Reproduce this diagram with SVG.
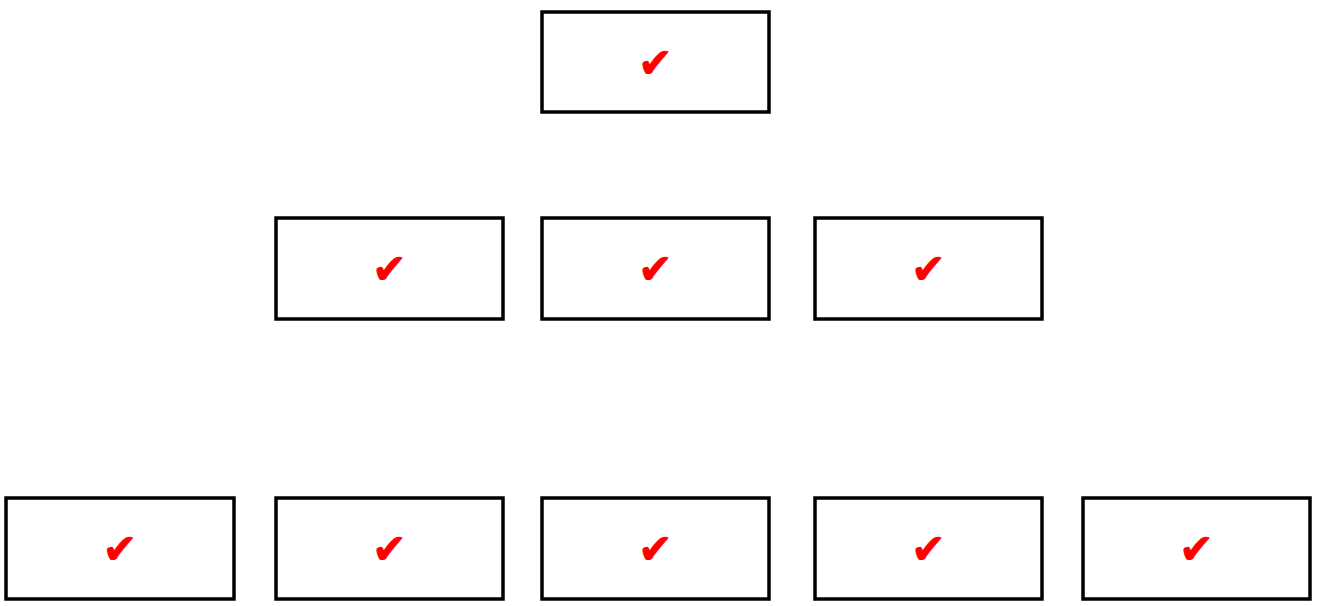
<svg xmlns="http://www.w3.org/2000/svg" width="1321" height="606" viewBox="0 0 1321 606">
<style>
.box{fill:#fff;stroke:#000;stroke-width:3.5;}
.ck{fill:#f00;stroke:#f00;stroke-width:1;font-family:"DejaVu Sans",sans-serif;font-size:41px;text-anchor:middle;}
</style>
<rect width="1321" height="606" fill="#fff"/>
<g id="connectors"></g>
<g id="n0"><rect class="box" x="542" y="12" width="227" height="100"/><text class="ck" x="655.5" y="77">✔</text></g>
<g id="n1"><rect class="box" x="276" y="218" width="227" height="101"/><text class="ck" x="389.5" y="283">✔</text></g>
<g id="n2"><rect class="box" x="542" y="218" width="227" height="101"/><text class="ck" x="655.5" y="283">✔</text></g>
<g id="n3"><rect class="box" x="815" y="218" width="227" height="101"/><text class="ck" x="928.5" y="283">✔</text></g>
<g id="n4"><rect class="box" x="6" y="498" width="228" height="101"/><text class="ck" x="120" y="563">✔</text></g>
<g id="n5"><rect class="box" x="276" y="498" width="227" height="101"/><text class="ck" x="389.5" y="563">✔</text></g>
<g id="n6"><rect class="box" x="542" y="498" width="227" height="101"/><text class="ck" x="655.5" y="563">✔</text></g>
<g id="n7"><rect class="box" x="815" y="498" width="227" height="101"/><text class="ck" x="928.5" y="563">✔</text></g>
<g id="n8"><rect class="box" x="1083" y="498" width="227" height="101"/><text class="ck" x="1196.5" y="563">✔</text></g>
</svg>
